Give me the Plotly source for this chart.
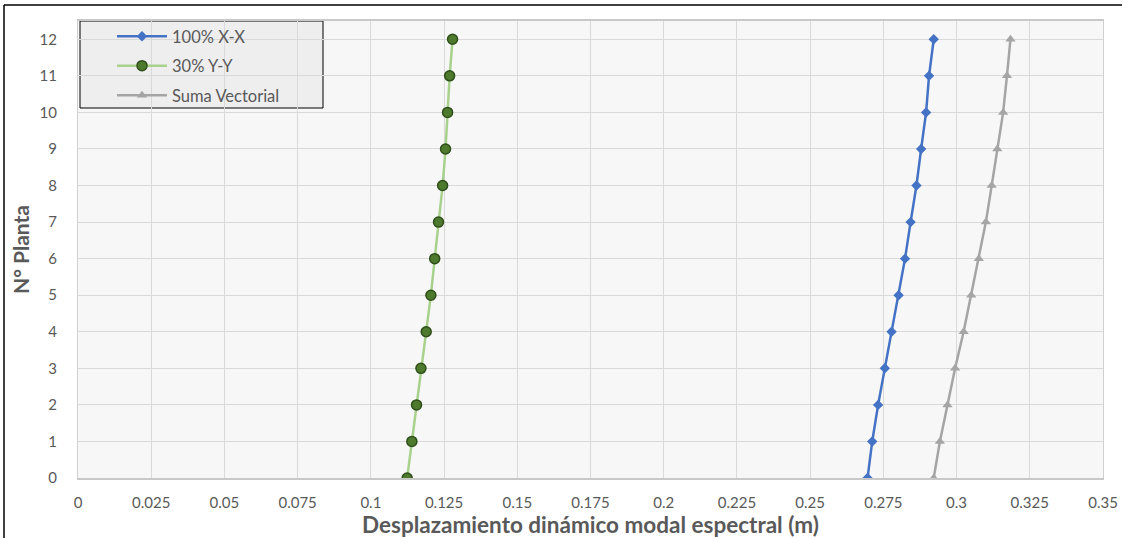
import plotly.graph_objects as go

pisos = list(range(0, 13))
x_100_xx = [0.2696, 0.2712, 0.2732, 0.2755, 0.2778, 0.2802, 0.2824, 0.2843, 0.2863, 0.2879, 0.2896, 0.2906, 0.2922]
y_30_yy = [0.1124, 0.1140, 0.1156, 0.1171, 0.1189, 0.1205, 0.1218, 0.1231, 0.1245, 0.1255, 0.1262, 0.1269, 0.1279]
suma_vec = [0.2922, 0.2943, 0.2969, 0.2995, 0.3024, 0.3050, 0.3076, 0.3100, 0.3120, 0.3139, 0.3159, 0.3172, 0.3184]
x_ticks = [0, 0.025, 0.05, 0.075, 0.1, 0.125, 0.15, 0.175, 0.2, 0.225, 0.25, 0.275, 0.3, 0.325, 0.35]
x_tick_labels = ["0", "0.025", "0.05", "0.075", "0.1", "0.125", "0.15", "0.175", "0.2", "0.225", "0.25", "0.275", "0.3", "0.325", "0.35"]

FONT = "Lato"
W, H = 1132, 538
L, R, T, B = 78, 29, 21, 60

fig = go.Figure()
fig.add_trace(go.Scatter(
    x=x_100_xx, y=pisos, name="100% X-X", mode="lines+markers", legendgroup="a",
    line=dict(color="#4472C4", width=2.5),
    marker=dict(symbol="diamond", size=8, color="#4472C4"),
))
fig.add_trace(go.Scatter(
    x=y_30_yy, y=pisos, name="30% Y-Y", mode="lines+markers", legendgroup="b",
    line=dict(color="#A9D18E", width=2.5),
    marker=dict(symbol="circle", size=10, color="#4E7A2E", line=dict(color="#2F4F1A", width=1.5)),
))
fig.add_trace(go.Scatter(
    x=suma_vec, y=pisos, name="Suma Vectorial", mode="lines+markers", legendgroup="c",
    line=dict(color="#A5A5A5", width=2.5),
    marker=dict(symbol="triangle-up", size=9, color="#A5A5A5"),
))

pw = W - L - R
ph = H - T - B

def px(xp):
    return (xp - L) / pw

def py(yp):
    return (H - B - yp) / ph

fig.update_layout(
    width=W, height=H,
    margin=dict(l=L, r=R, t=T, b=B, autoexpand=False),
    paper_bgcolor="white",
    plot_bgcolor="#F7F7F7",
    font=dict(family=FONT, color="#595959", size=15),
    xaxis=dict(
        range=[0, 0.35], tickvals=x_ticks, ticktext=x_tick_labels,
        showgrid=True, gridcolor="#D9D9D9", gridwidth=1,
        zeroline=False, showline=True, linecolor="#C8C8C8", linewidth=2, mirror=True,
        ticks="", ticklabelstandoff=10, automargin=False,
        tickfont=dict(family=FONT, size=15, color="#595959"),
        title=dict(text="<b>Desplazamiento dinámico modal espectral (m)</b>",
                   font=dict(family=FONT, size=22.5, color="#595959"), standoff=2),
    ),
    yaxis=dict(
        range=[0, 12.5], tickvals=pisos, ticktext=[str(p) for p in pisos],
        showgrid=True, gridcolor="#D9D9D9", gridwidth=1,
        zeroline=False, showline=True, linecolor="#D0D0D0", linewidth=1, mirror=True,
        ticks="", ticklabelstandoff=17, automargin=False,
        tickfont=dict(family=FONT, size=15, color="#595959"),
        title=dict(text="<b>N° Planta</b>",
                   font=dict(family=FONT, size=21, color="#595959"), standoff=4),
    ),
    legend=dict(
        x=px(112), y=py(19), xanchor="left", yanchor="top",
        bgcolor="rgba(0,0,0,0)", borderwidth=0,
        font=dict(family=FONT, size=16.5, color="#595959"),
        tracegroupgap=5, itemwidth=50,
    ),
    showlegend=True,
    shapes=[
        dict(type="rect", xref="paper", yref="paper", x0=px(80), x1=px(323), y0=py(108), y1=py(21),
             fillcolor="#EEEEEE", line=dict(color="#000000", width=1), layer="between"),
        dict(type="line", xref="paper", yref="paper", x0=px(4), x1=px(1122), y0=py(5), y1=py(5),
             line=dict(color="#000000", width=1.5)),
        dict(type="line", xref="paper", yref="paper", x0=px(4), x1=px(4), y0=py(5), y1=py(538),
             line=dict(color="#000000", width=1.5)),
    ],
)

fig.write_html("out.html", config={"displayModeBar": False},
               post_script="document.body.style.margin='0';document.body.style.overflow='hidden';")
